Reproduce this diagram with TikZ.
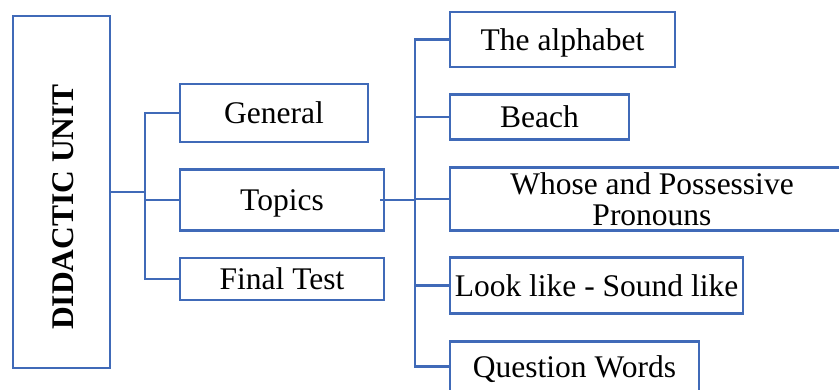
\documentclass[tikz,border=0pt]{standalone}
\usepackage{fontspec}
\setmainfont{Liberation Serif}
\usetikzlibrary{positioning,calc}
\definecolor{linkblue}{RGB}{64,106,184}
\tikzset{
  topicbox/.style={draw=linkblue, line width=2.8pt, inner sep=0pt, align=center},
  onerow/.style={text height=21pt, text depth=0pt},
  link/.style={draw=linkblue, line width=2.8pt},
}
\begin{document}
\begin{tikzpicture}[x=1pt, y=-1pt, font=\fontsize{31.5}{31}\selectfont]
  \useasboundingbox (0,0) rectangle (839,389);
  \clip (0,0) rectangle (839,389);

  % Didactic unit
  \node[topicbox, minimum width=97pt, minimum height=352pt] (unit) at (61.5,192) {};
  \node[rotate=90, font=\fontsize{31.5}{31}\selectfont\bfseries] (unitlabel) at ($(unit.center)+(1.5,15)$) {DIDACTIC UNIT};

  % First level
  \node[topicbox, onerow, minimum width=188pt, minimum height=58pt] (general) at (274,113) {General};
  \node[topicbox, onerow, minimum width=204pt, minimum height=61pt] (topics) at (282,200) {Topics};
  \node[topicbox, onerow, minimum width=204pt, minimum height=42pt] (final) at (282,279) {Final Test};

  % Topics
  \node[topicbox, onerow, minimum width=225pt, minimum height=55pt] (alphabet) at (562.5,39.5) {The alphabet};
  \node[topicbox, onerow, minimum width=179pt, minimum height=45pt] (beach) at (539.5,117) {Beach};
  \node[topicbox, minimum width=404pt, minimum height=63pt] (whose) at (652,199) {Whose and Possessive\\Pronouns};
  \node[topicbox, onerow, minimum width=293pt, minimum height=56pt] (look) at (596.5,285.5) {Look like - Sound like};
  \node[topicbox, onerow, minimum width=249pt, minimum height=50pt] (question) at (574.5,366.5) {Question Words};

  % Left bus
  \coordinate (leftbus) at (145,192);
  \draw[link] (unit.east) -- (leftbus);
  \draw[link] (general.west) -| (leftbus) |- (final.west);
  \draw[link] (leftbus |- topics.west) -- (topics.west);

  % Right bus
  \coordinate (rightbus) at (415,200);
  \draw[link] ([xshift=-5pt]topics.east) -- (rightbus);
  \draw[link] (alphabet.west) -| (rightbus) |- (question.west);
  \foreach \n in {beach,whose,look}
    \draw[link] (rightbus |- \n.west) -- (\n.west);
\end{tikzpicture}
\end{document}
